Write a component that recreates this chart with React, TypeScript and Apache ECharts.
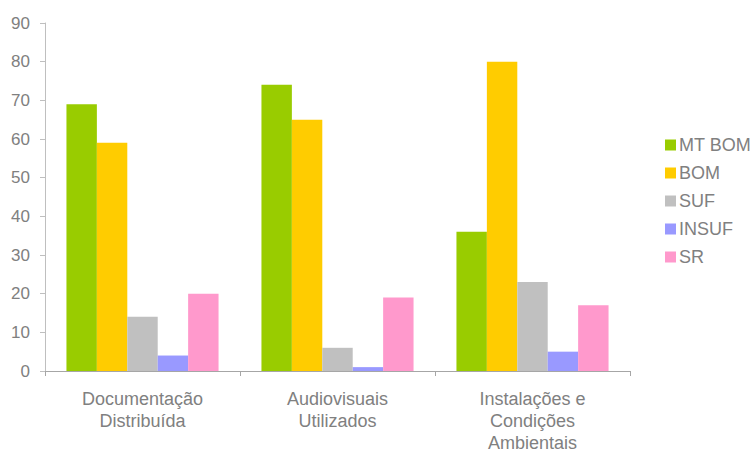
import React, { useEffect, useRef } from "react";
import * as echarts from "echarts";

const categories = ["Documentação\nDistribuída", "Audiovisuais\nUtilizados", "Instalações e\nCondições\nAmbientais"];
const seriesNames = ["MT BOM", "BOM", "SUF", "INSUF", "SR"];
const mtBom = [69, 74, 36];
const bom = [59, 65, 80];
const suf = [14, 6, 23];
const insuf = [4, 1, 5];
const sr = [20, 19, 17];
const colors = ["#99cc00", "#ffcc00", "#c0c0c0", "#9999ff", "#ff99cc"];

export default function App() {
  const ref = useRef<HTMLDivElement>(null);
  useEffect(() => {
    if (!ref.current) return;
    const chart = echarts.init(ref.current, null, { renderer: "svg" });
    const values = [mtBom, bom, suf, insuf, sr];
    const font = "Liberation Sans";
    chart.setOption({
      animation: false,
      color: colors,
      textStyle: { fontFamily: font },
      grid: { left: 45, right: 123, top: 23, bottom: 83, containLabel: false, outerBoundsMode: "none" },
      legend: {
        orient: "vertical",
        left: 660,
        top: 131,
        itemWidth: 11,
        itemHeight: 11,
        itemGap: 10,
        icon: "rect",
        textStyle: { color: "#808080", fontSize: 18, lineHeight: 18, fontFamily: font, padding: [0, 0, 0, -2] },
        data: seriesNames,
      },
      xAxis: {
        type: "category",
        data: categories,
        axisLine: { lineStyle: { color: "#a6a6a6", width: 1 } },
        axisTick: { show: true, length: 5, lineStyle: { color: "#a6a6a6" } },
        axisLabel: { color: "#808080", fontSize: 18, lineHeight: 22, margin: 17, fontFamily: font, interval: 0 },
      },
      yAxis: {
        type: "value",
        min: 0,
        max: 90,
        interval: 10,
        splitLine: { show: false },
        axisLine: { show: true, lineStyle: { color: "#bfbfbf", width: 1 } },
        axisTick: { show: true, length: 5, lineStyle: { color: "#bfbfbf" } },
        axisLabel: { color: "#808080", fontSize: 17, margin: 15, fontFamily: font },
      },
      series: seriesNames.map((name, i) => ({
        name,
        type: "bar",
        data: values[i],
        barGap: "0%",
        barCategoryGap: "22%",
        itemStyle: { color: colors[i] },
      })),
    });
    return () => chart.dispose();
  }, []);
  return <div ref={ref} style={{ width: 753, height: 454, position: "absolute", left: 0, top: 0 }} />;
}
